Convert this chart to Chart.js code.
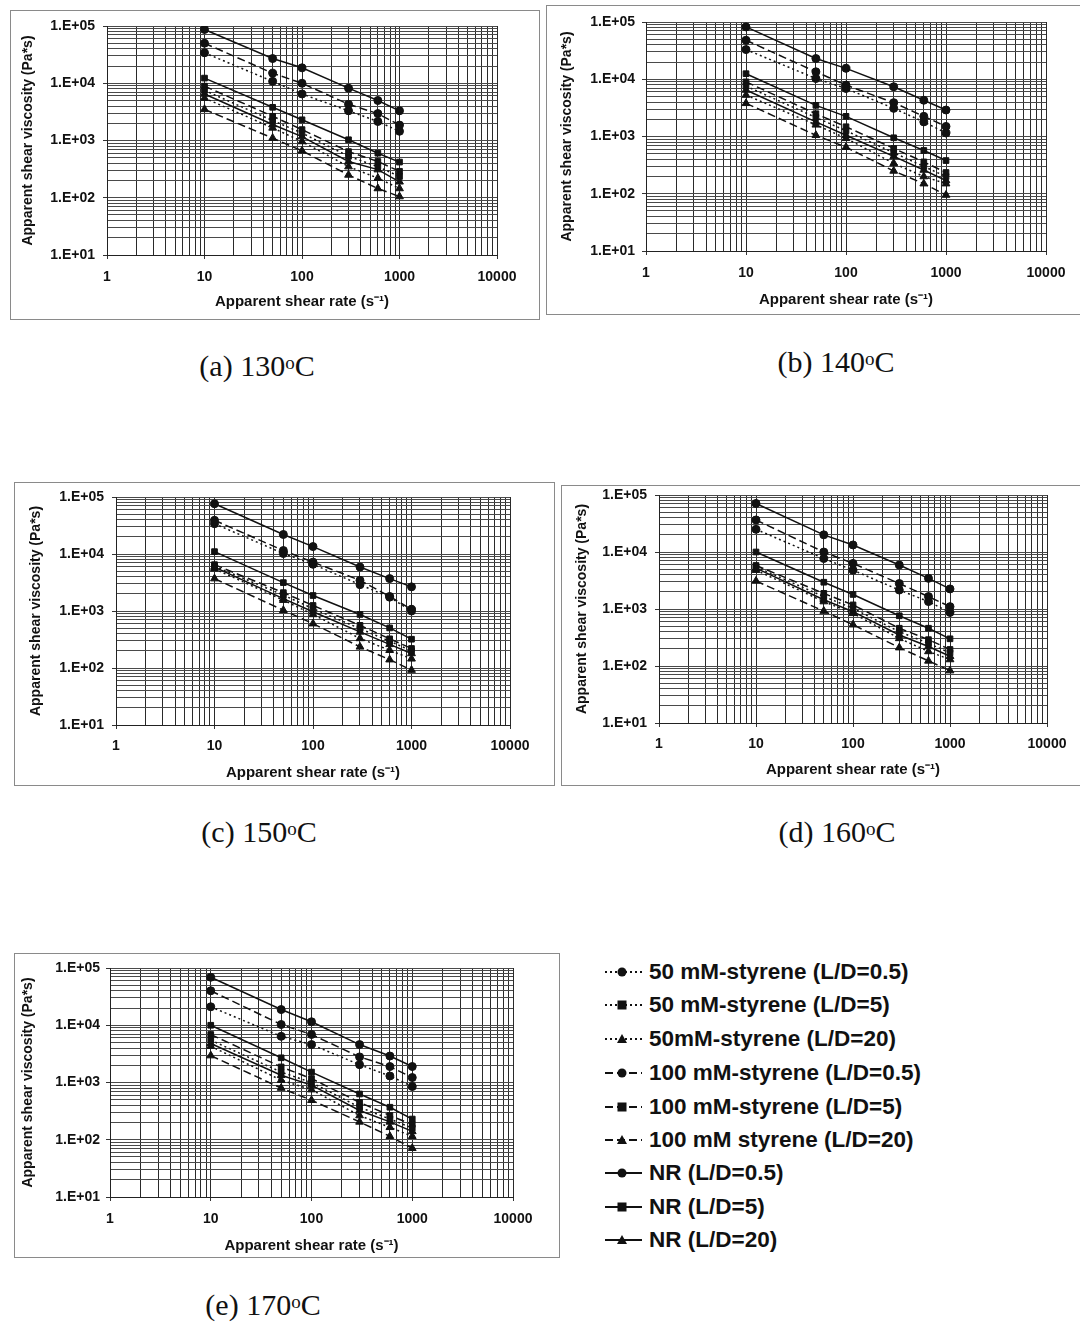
<!DOCTYPE html>
<html><head><meta charset="utf-8">
<script src="https://cdn.jsdelivr.net/npm/chart.js@4"></script>
<style>
html,body{margin:0;padding:0;background:#fff;}
body{width:1080px;height:1322px;position:relative;overflow:hidden;font-family:"Liberation Sans",Arial,sans-serif;}
.box{position:absolute;border:1px solid #8a8a8a;box-sizing:border-box;background:#fff;}
.box canvas{position:absolute;left:0;top:0;}
.cap{position:absolute;width:260px;text-align:center;font-family:"Liberation Serif","Times New Roman",serif;font-size:30px;color:#111;line-height:34px;}
.cap sup{font-size:19px;vertical-align:top;position:relative;top:-3px;}
.leg{position:absolute;left:604px;height:30px;display:flex;align-items:center;font-weight:bold;font-size:22.5px;color:#111;white-space:nowrap;}
.leg svg{margin-right:3px;}
</style></head><body>
<div id="root"></div>
<script>
// ---------- data ----------
const shearRates = [10, 50, 100, 300, 600, 1000];
const seriesLabels = ['50 mM-styrene (L/D=0.5)', '50 mM-styrene (L/D=5)', '50mM-styrene (L/D=20)',
  '100 mM-styrene (L/D=0.5)', '100 mM-styrene (L/D=5)', '100 mM styrene (L/D=20)',
  'NR (L/D=0.5)', 'NR (L/D=5)', 'NR (L/D=20)'];
const temperatures = ['130', '140', '150', '160', '170'];
const panelLetters = ['(a)', '(b)', '(c)', '(d)', '(e)'];
const xTickValues = [1, 10, 100, 1000, 10000];
const yTickLabels = ['1.E+01', '1.E+02', '1.E+03', '1.E+04', '1.E+05'];
const xTitle = 'Apparent shear rate (s\u207B\u00B9)';
const yTitle = 'Apparent shear viscosity (Pa*s)';

const visc130 = [
  [34000, 10800, 6500, 3300, 2150, 1450],
  [7500, 2230, 1350, 530, 350, 235],
  [5500, 1660, 960, 350, 220, 145],
  [50000, 15000, 10000, 4300, 2950, 1860],
  [8900, 2650, 1550, 640, 430, 290],
  [3500, 1100, 660, 250, 145, 105],
  [87000, 27000, 18600, 8200, 5000, 3300],
  [12300, 3800, 2300, 1030, 600, 420],
  [6500, 1900, 1170, 430, 310, 190]
];
const visc140 = [
  [33000, 10300, 6900, 3100, 1800, 1150],
  [7600, 2150, 1260, 520, 300, 200],
  [5300, 1600, 930, 340, 200, 150],
  [48000, 13500, 7900, 3900, 2250, 1500],
  [9000, 2500, 1480, 620, 360, 235],
  [3800, 1050, 650, 250, 150, 95],
  [82000, 23000, 15500, 7400, 4300, 2900],
  [12500, 3500, 2250, 950, 570, 380],
  [6500, 1800, 1050, 450, 260, 170]
];
const visc150 = [
  [34000, 10200, 6600, 2900, 1750, 1000],
  [6100, 1900, 1100, 490, 295, 200],
  [5500, 1550, 870, 330, 205, 145],
  [39000, 11500, 7200, 3450, 1800, 1070],
  [6500, 2100, 1250, 560, 325, 220],
  [3700, 1030, 600, 235, 140, 92],
  [76000, 22000, 13500, 5900, 3700, 2650],
  [11000, 3150, 1870, 870, 505, 320],
  [5900, 1650, 970, 430, 260, 180]
];
const visc160 = [
  [25000, 7700, 4800, 2150, 1350, 870],
  [5500, 1650, 1030, 400, 250, 170],
  [4800, 1350, 840, 305, 180, 130],
  [36500, 10000, 6300, 2800, 1650, 1100],
  [5800, 1880, 1180, 460, 290, 195],
  [3100, 920, 530, 210, 123, 83],
  [71000, 20000, 13300, 5900, 3450, 2250],
  [10000, 2950, 1800, 760, 460, 300],
  [5200, 1450, 900, 350, 220, 148]
];
const visc170 = [
  [21000, 6400, 4600, 2050, 1300, 850],
  [5500, 1520, 1000, 370, 230, 160],
  [4300, 1100, 750, 265, 165, 115],
  [40000, 10300, 6900, 2800, 1900, 1220],
  [6900, 1870, 1170, 450, 265, 185],
  [2950, 800, 490, 205, 115, 71],
  [69000, 18800, 11500, 4600, 2900, 1900],
  [10000, 2700, 1520, 630, 370, 230],
  [4800, 1340, 900, 325, 205, 140]
];
const panelData = [visc130, visc140, visc150, visc160, visc170];

// ---------- layout & style ----------
const panelLayout = [
  {box:[10,10,530,310],  plot:[107,26,497,255],  yTitleX:28,  xTitleY:302,  xTickY:277,  yTickRight:95,  cap:[257,366]},
  {box:[546,5,536,310],  plot:[646,22,1046,251], yTitleX:567, xTitleY:300,  xTickY:273,  yTickRight:635, cap:[836,362]},
  {box:[14,482,541,304], plot:[116,497,510,725], yTitleX:36,  xTitleY:773,  xTickY:746,  yTickRight:104, cap:[259,832]},
  {box:[561,485,521,301],plot:[659,495,1047,723],yTitleX:582, xTitleY:770,  xTickY:744,  yTickRight:647, cap:[837,832]},
  {box:[14,953,546,305], plot:[110,968,513,1197],yTitleX:28,  xTitleY:1246, xTickY:1219, yTickRight:100, cap:[263,1305]}
];
const dashes = [[2,3],[2,3],[2,3],[8,4],[8,4],[8,4],[],[],[]];
const shapes = ['circle','rect','triangle','circle','rect','triangle','circle','rect','triangle'];
const FONT = '"Liberation Sans", Arial, sans-serif';
const TICK_FS = 14, XTITLE_FS = 15, YTITLE_FS = 14, LH = 1.2;
const TL = 4;

function isPow10(v){ const l = Math.log10(v); return Math.abs(l - Math.round(l)) < 1e-9; }
function gridTicks(minExp, maxExp){
  const t = [];
  for (let e = minExp; e < maxExp; e++) for (let m = 1; m <= 9; m++) t.push({value: m * Math.pow(10, e)});
  t.push({value: Math.pow(10, maxExp)});
  return t;
}

const root = document.getElementById('root');
panelLayout.forEach((L, i) => {
  const [bl, bt, bw, bh] = L.box;
  const box = document.createElement('div');
  box.className = 'box';
  Object.assign(box.style, {left: bl+'px', top: bt+'px', width: bw+'px', height: bh+'px'});
  const cv = document.createElement('canvas');
  const cw = bw - 2, ch = bh - 2, ox = bl + 1, oy = bt + 1;
  cv.width = cw; cv.height = ch;
  cv.style.width = cw + 'px'; cv.style.height = ch + 'px';
  box.appendChild(cv);
  root.appendChild(box);

  const cap = document.createElement('div');
  cap.className = 'cap';
  cap.style.left = (L.cap[0] - 130) + 'px';
  cap.style.top = (L.cap[1] - 17) + 'px';
  cap.innerHTML = panelLetters[i] + ' ' + temperatures[i] + '<sup>o</sup>C';
  root.appendChild(cap);

  const [pl, pt, pr, pb] = L.plot;
  const yW = pl - ox;
  const xH = (oy + ch) - pb;
  const padTop = pt - oy;
  const padRight = cw - (pr - ox);
  const yTickPad = pl - L.yTickRight - TL;
  const xTickPad = L.xTickY - pb - TL - TICK_FS * LH / 2;
  const yTitlePad = (L.yTitleX - ox) - YTITLE_FS * LH / 2;
  const xTitlePad = (oy + ch - L.xTitleY) - XTITLE_FS * LH / 2;

  const vis = panelData[i];
  const datasets = vis.map((ys, k) => ({
    label: seriesLabels[k],
    data: shearRates.map((x, j) => ({x: x, y: ys[j]})),
    borderColor: '#111',
    backgroundColor: '#111',
    borderWidth: 1.5,
    borderDash: dashes[k],
    pointStyle: shapes[k],
    pointRadius: shapes[k] === 'triangle' ? 4.5 : 4,
    pointBackgroundColor: '#111',
    pointBorderColor: '#111',
    pointBorderWidth: 1,
    tension: 0,
    fill: false
  }));

  new Chart(cv, {
    type: 'line',
    data: {datasets},
    options: {
      responsive: false,
      animation: false,
      events: [],
      layout: {padding: {left: 0, top: padTop, right: padRight, bottom: 0}},
      plugins: {legend: {display: false}, tooltip: {enabled: false}},
      scales: {
        x: {
          type: 'logarithmic', min: 1, max: 10000,
          afterBuildTicks: s => { s.ticks = gridTicks(0, 4); },
          afterFit: s => { s.height = xH; s.paddingLeft = 0; s.paddingRight = 0; },
          ticks: {
            autoSkip: false, maxRotation: 0, minRotation: 0, padding: xTickPad,
            color: '#111', font: {family: FONT, size: TICK_FS, weight: 'bold'},
            callback: v => (isPow10(v) && xTickValues.includes(Math.round(v))) ? String(Math.round(v)) : ''
          },
          grid: {
            color: '#2a2a2a', lineWidth: 1, tickLength: TL, drawTicks: true,
            tickColor: c => (c.tick && isPow10(c.tick.value)) ? '#333' : 'rgba(0,0,0,0)'
          },
          border: {color: '#222', width: 1},
          title: {display: true, text: xTitle, color: '#111',
            font: {family: FONT, size: XTITLE_FS, weight: 'bold', lineHeight: LH},
            padding: {top: 0, bottom: xTitlePad}}
        },
        y: {
          type: 'logarithmic', min: 10, max: 100000,
          afterBuildTicks: s => { s.ticks = gridTicks(1, 5); },
          afterFit: s => { s.width = yW; s.paddingTop = 0; s.paddingBottom = 0; },
          ticks: {
            autoSkip: false, padding: yTickPad,
            color: '#111', font: {family: FONT, size: TICK_FS, weight: 'bold'},
            callback: v => isPow10(v) ? yTickLabels[Math.round(Math.log10(v)) - 1] : ''
          },
          grid: {
            color: '#4a4a4a', lineWidth: 1, tickLength: TL, drawTicks: true,
            tickColor: c => (c.tick && isPow10(c.tick.value)) ? '#333' : 'rgba(0,0,0,0)'
          },
          border: {color: '#222', width: 1},
          title: {display: true, text: yTitle, color: '#111',
            font: {family: FONT, size: YTITLE_FS, weight: 'bold', lineHeight: LH},
            padding: {top: yTitlePad, bottom: 0}}
        }
      }
    }
  });
});

// ---------- legend ----------
const legendRowY = [972, 1005, 1039, 1073, 1107, 1140, 1173, 1207, 1240];
function markerSvg(k){
  const cx = 18, cy = 10;
  let m = '';
  if (shapes[k] === 'circle') m = `<circle cx="${cx}" cy="${cy}" r="4.5" fill="#111"/>`;
  else if (shapes[k] === 'rect') m = `<rect x="${cx-4.5}" y="${cy-4.5}" width="9" height="9" fill="#111"/>`;
  else m = `<polygon points="${cx},${cy-5} ${cx+5},${cy+4} ${cx-5},${cy+4}" fill="#111"/>`;
  const d = dashes[k].length ? `stroke-dasharray="${dashes[k].join(',')}"` : '';
  return `<svg width="42" height="20" viewBox="0 0 42 20"><line x1="1" y1="10" x2="38" y2="10" stroke="#111" stroke-width="1.8" ${d}/>${m}</svg>`;
}
seriesLabels.forEach((lab, k) => {
  const row = document.createElement('div');
  row.className = 'leg';
  row.style.top = (legendRowY[k] - 15) + 'px';
  row.innerHTML = markerSvg(k) + '<span>' + lab + '</span>';
  root.appendChild(row);
});
</script>
</body></html>
